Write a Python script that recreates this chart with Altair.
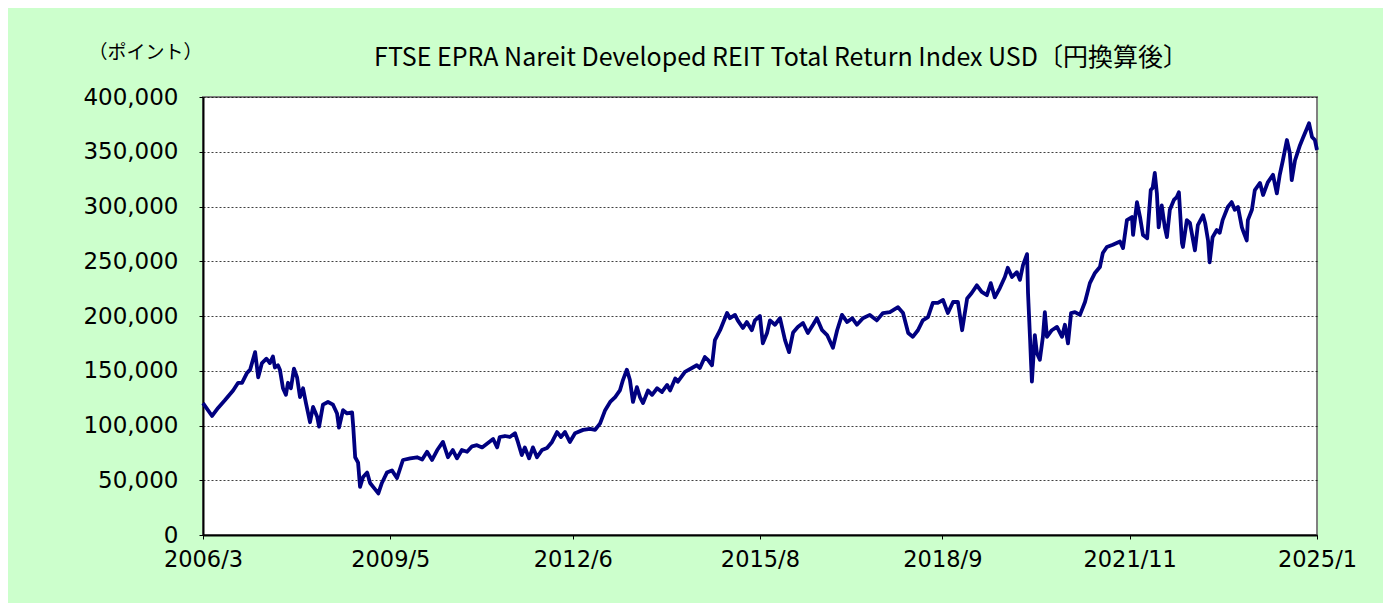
import altair as alt
import pandas as pd

dates = [
    "2006-03-01", "2006-04-26", "2006-06-02", "2006-07-14", "2006-09-03", "2006-10-04", "2006-10-28", "2006-11-28", "2006-12-17", "2007-01-17",
    "2007-02-05", "2007-02-28", "2007-03-28", "2007-04-18", "2007-05-07", "2007-05-19", "2007-06-07", "2007-06-19", "2007-07-08", "2007-07-26",
    "2007-08-08", "2007-08-26", "2007-09-14", "2007-10-03", "2007-10-21", "2007-11-09", "2007-11-27", "2007-12-22", "2008-01-10", "2008-02-04",
    "2008-02-16", "2008-03-11", "2008-04-11", "2008-05-12", "2008-06-06", "2008-06-18", "2008-07-13", "2008-08-07", "2008-09-07", "2008-09-14",
    "2008-09-26", "2008-10-14", "2008-10-26", "2008-11-14", "2008-12-09", "2008-12-27", "2009-01-15", "2009-02-16", "2009-03-10", "2009-04-10",
    "2009-05-11", "2009-06-11", "2009-07-18", "2009-09-01", "2009-10-13", "2009-11-14", "2009-12-14", "2010-01-14", "2010-02-15", "2010-03-22",
    "2010-04-22", "2010-05-22", "2010-06-17", "2010-07-17", "2010-08-18", "2010-09-18", "2010-10-18", "2010-11-19", "2010-12-25", "2011-01-26",
    "2011-02-20", "2011-03-08", "2011-04-09", "2011-05-09", "2011-06-10", "2011-06-28", "2011-07-22", "2011-08-10", "2011-09-05", "2011-09-29",
    "2011-10-24", "2011-11-24", "2011-12-25", "2012-01-25", "2012-02-25", "2012-03-20", "2012-04-14", "2012-05-14", "2012-06-15", "2012-08-04",
    "2012-09-16", "2012-10-17", "2012-11-17", "2012-12-18", "2013-01-18", "2013-02-18", "2013-03-19", "2013-04-07", "2013-05-01", "2013-05-20",
    "2013-06-08", "2013-07-02", "2013-07-21", "2013-08-09", "2013-09-09", "2013-10-04", "2013-11-04", "2013-12-04", "2014-01-05", "2014-01-23",
    "2014-02-24", "2014-03-12", "2014-04-25", "2014-06-07", "2014-07-07", "2014-07-26", "2014-08-26", "2014-09-14", "2014-10-09", "2014-10-27",
    "2014-11-28", "2014-12-16", "2015-01-10", "2015-01-28", "2015-02-28", "2015-03-17", "2015-04-18", "2015-05-12", "2015-06-12", "2015-07-01",
    "2015-08-01", "2015-08-19", "2015-09-14", "2015-10-02", "2015-11-02", "2015-12-03", "2016-01-03", "2016-01-28", "2016-02-22", "2016-03-22",
    "2016-04-23", "2016-05-23", "2016-06-24", "2016-07-18", "2016-08-19", "2016-09-19", "2016-10-25", "2016-11-20", "2016-12-20", "2017-01-21",
    "2017-02-21", "2017-03-22", "2017-04-28", "2017-06-10", "2017-07-23", "2017-08-30", "2017-10-12", "2017-12-01", "2018-01-01", "2018-02-02",
    "2018-03-02", "2018-04-03", "2018-05-03", "2018-06-04", "2018-07-04", "2018-08-04", "2018-09-05", "2018-10-05", "2018-11-06", "2018-12-06",
    "2019-01-01", "2019-02-01", "2019-03-01", "2019-04-02", "2019-05-02", "2019-06-03", "2019-06-27", "2019-07-22", "2019-08-22", "2019-09-22",
    "2019-10-10", "2019-11-05", "2019-12-05", "2019-12-24", "2020-01-12", "2020-02-06", "2020-02-12", "2020-02-25", "2020-03-01", "2020-03-07",
    "2020-03-25", "2020-04-07", "2020-04-25", "2020-05-14", "2020-05-26", "2020-06-08", "2020-07-08", "2020-08-09", "2020-09-09", "2020-09-27",
    "2020-10-16", "2020-11-04", "2020-11-28", "2020-12-29", "2021-01-29", "2021-02-28", "2021-03-30", "2021-05-01", "2021-05-19", "2021-06-13",
    "2021-07-20", "2021-09-02", "2021-09-21", "2021-10-15", "2021-11-15", "2021-11-22", "2021-12-16", "2022-01-04", "2022-01-22", "2022-02-17",
    "2022-03-11", "2022-03-23", "2022-04-05", "2022-04-18", "2022-04-29", "2022-05-18", "2022-06-06", "2022-06-19", "2022-07-07", "2022-08-01",
    "2022-08-19", "2022-09-01", "2022-09-20", "2022-09-26", "2022-10-20", "2022-11-08", "2022-12-09", "2022-12-27", "2023-01-28", "2023-02-10",
    "2023-02-28", "2023-03-10", "2023-03-28", "2023-04-23", "2023-05-11", "2023-05-29", "2023-06-30", "2023-07-24", "2023-08-12", "2023-09-01",
    "2023-09-25", "2023-10-07", "2023-10-25", "2023-11-01", "2023-11-26", "2023-12-14", "2024-01-15", "2024-02-03", "2024-03-03", "2024-04-04",
    "2024-04-28", "2024-05-16", "2024-06-04", "2024-06-29", "2024-07-17", "2024-07-29", "2024-08-18", "2024-09-18", "2024-10-06", "2024-11-01",
    "2024-11-13", "2024-12-01", "2024-12-19", "2025-01-01",
]

values = [
    120500, 108700, 116000, 123000, 132000, 139000, 139000, 148000, 151000, 167000,
    144000, 157000, 161000, 157000, 163000, 153000, 155000, 151000, 134000, 128000,
    139000, 134000, 152000, 144000, 126000, 134000, 120500, 103000, 117000, 108000,
    99000, 119000, 121500, 119000, 111000, 98000, 114000, 111000, 112000, 99000,
    71000, 66000, 44000, 53000, 57000, 47500, 44000, 38000, 47500, 57000,
    59000, 52000, 68500, 70000, 71000, 69000, 76000, 68500, 77600, 85000,
    71000, 77600, 70000, 77600, 76000, 81000, 82000, 80000, 84000, 87700,
    80000, 89500, 90400, 89500, 93000, 85000, 73000, 80000, 70000, 80000,
    71000, 77600, 79500, 85000, 94000, 89500, 94000, 85000, 93000, 96000,
    97000, 96000, 102000, 114000, 121500, 126000, 132000, 141500, 151000, 141500,
    121500, 135000, 126000, 120500, 132000, 128000, 134000, 130600, 137000, 132000,
    143000, 140000, 149000, 152500, 155000, 152500, 162500, 160000, 155000, 178000,
    187000, 193600, 202700, 198000, 201000, 196000, 189000, 194500, 187000, 196000,
    200000, 175000, 184500, 196000, 192000, 198000, 178000, 167000, 185000, 190000,
    193600, 184500, 192000, 198000, 187000, 182600, 171000, 187000, 201000, 194500,
    198000, 192000, 198000, 201000, 196000, 202700, 203600, 208000, 202700, 184500,
    181000, 187000, 196000, 199000, 212000, 212000, 214600, 202700, 212800, 212800,
    187000, 216000, 221000, 228000, 222000, 219000, 230000, 217000, 225500, 235600,
    244000, 235600, 240000, 233000, 246500, 256500, 221000, 178000, 160000, 140000,
    182600, 166000, 160000, 181000, 203600, 181000, 187000, 190000, 181000, 192000,
    175000, 202700, 203600, 201000, 212800, 230000, 239000, 244700, 257500, 263000,
    265000, 268000, 262000, 287600, 290400, 274000, 304000, 290400, 274000, 271000,
    315000, 317000, 330600, 312000, 281000, 301000, 281000, 272000, 297000, 306000,
    308600, 313000, 266600, 263000, 287600, 285000, 260000, 283000, 292000, 285000,
    269000, 249000, 272000, 278500, 276000, 287600, 299500, 304000, 297000, 299500,
    281000, 276000, 269000, 287600, 297000, 315000, 321500, 310500, 322000, 329000,
    312000, 329000, 342000, 360700, 349000, 324000, 342000, 356000, 362500, 371700,
    376000, 363500, 360700, 351600,
]

assert len(dates) == len(values)

x_ticks = [(2006, 3), (2009, 5), (2012, 6), (2015, 8), (2018, 9), (2021, 11), (2025, 1)]
y_ticks = [0, 50000, 100000, 150000, 200000, 250000, 300000, 350000, 400000]

title_text = "FTSE EPRA Nareit Developed REIT Total Return Index USD〔円換算後〕"
unit_text = "（ポイント）"

FONT = "Noto Sans CJK JP"
NUM_FONT = "DejaVu Sans"

df = pd.DataFrame({"date": dates, "value": values})

x_vals = [alt.DateTime(year=y, month=m, date=1, utc=True) for y, m in x_ticks]

chart = (
    alt.Chart(df)
    .mark_line(color="#000080", strokeWidth=3.8, strokeJoin="round")
    .encode(
        x=alt.X(
            "date:T",
            scale=alt.Scale(
                type="utc",
                domain=[alt.DateTime(year=2006, month=3, date=1, utc=True),
                        alt.DateTime(year=2025, month=1, date=1, utc=True)],
                nice=False,
            ),
            axis=alt.Axis(
                values=x_vals,
                labelExpr="utcFormat(datum.value, '%Y/%-m')",
                title=None,
                grid=False,
                labelFlush=False,
                labelOverlap=False,
                labelFont=NUM_FONT,
                labelFontSize=22.5,
                labelColor="#000000",
                labelPadding=9,
                tickSize=4,
                tickColor="#000000",
                domainColor="#000000",
                domainWidth=2,
            ),
        ),
        y=alt.Y(
            "value:Q",
            scale=alt.Scale(domain=[0, 400000], nice=False),
            axis=alt.Axis(
                values=y_ticks,
                labelExpr="format(datum.value, ',.0f')",
                title=unit_text,
                titleAngle=0,
                titleAlign="center",
                titleBaseline="middle",
                titleX=-58,
                titleY=-45,
                titleFont=FONT,
                titleFontSize=19,
                titleFontWeight="normal",
                titleColor="#000000",
                grid=True,
                gridColor="#000000",
                gridDash=[2, 2],
                gridWidth=1,
                gridOpacity=0.75,
                labelFont=NUM_FONT,
                labelFontSize=23,
                labelColor="#000000",
                labelPadding=21,
                tickSize=4,
                tickColor="#000000",
                domainColor="#000000",
                domainWidth=2,
            ),
        ),
    )
    .properties(
        width=1114,
        height=438,
        title=alt.TitleParams(
            text=title_text,
            font=FONT,
            fontSize=25,
            fontWeight="normal",
            color="#000000",
            anchor="middle",
            frame="group",
            dx=21,
            dy=57,
            offset=29,
        ),
        padding={"left": 195, "top": 89, "right": 66, "bottom": 68},
        autosize="none",
        background="#ccffcc",
    )
    .configure_view(fill="#ffffff", stroke="#808080", strokeWidth=2)
)

chart.save("out.html", embed_options={"renderer": "svg", "actions": False})
